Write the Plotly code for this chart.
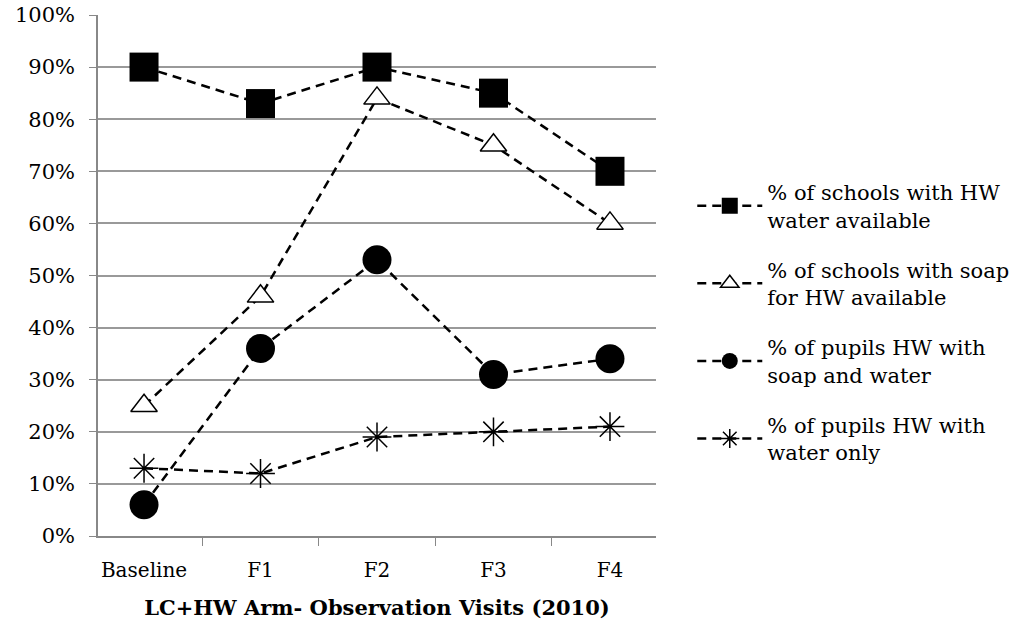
import plotly.graph_objects as go

categories = ["Baseline", "F1", "F2", "F3", "F4"]
water_avail = [0.90, 0.83, 0.90, 0.85, 0.70]
soap_avail = [0.25, 0.46, 0.84, 0.75, 0.60]
hw_soap_water = [0.06, 0.36, 0.53, 0.31, 0.34]
hw_water_only = [0.13, 0.12, 0.19, 0.20, 0.21]

names = [
    "% of schools with HW<br>water available",
    "% of schools with soap<br>for HW available",
    "% of pupils HW with<br>soap and water",
    "% of pupils HW with<br>water only",
]

FONT = "DejaVu Serif"
fig = go.Figure()
line = dict(color="black", width=2.5, dash="9px,6px")
fig.add_trace(go.Scatter(x=categories, y=water_avail, name=names[0], mode="lines+markers", legendgroup="a",
                         line=line, marker=dict(symbol="square", size=29, color="black")))
fig.add_trace(go.Scatter(x=categories, y=soap_avail, name=names[1], mode="lines+markers", legendgroup="b",
                         line=line, marker=dict(symbol="triangle-up", size=23, color="white",
                                                line=dict(color="black", width=1.5))))
fig.add_trace(go.Scatter(x=categories, y=hw_soap_water, name=names[2], mode="lines+markers", legendgroup="c",
                         line=line, marker=dict(symbol="circle", size=29, color="black")))
fig.add_trace(go.Scatter(x=categories, y=hw_water_only, name=names[3], mode="lines+markers", legendgroup="d",
                         line=line, marker=dict(symbol="asterisk-open", size=24, color="black",
                                                line=dict(color="black", width=1.5))))

fig.update_layout(
    width=1014, height=621,
    margin=dict(l=98, r=358, t=15, b=85, autoexpand=False),
    plot_bgcolor="white", paper_bgcolor="white",
    font=dict(family=FONT, size=20, color="black"),
    showlegend=True,
    legend=dict(x=1.065, y=0.41, xanchor="left", yanchor="middle",
                font=dict(family=FONT, size=21), tracegroupgap=20,
                itemsizing="trace", itemwidth=65),
)
fig.update_xaxes(
    title=dict(text="<b>LC+HW Arm- Observation Visits (2010)</b>", font=dict(family=FONT, size=21), standoff=20),
    showline=True, linecolor="#888888", linewidth=1.5,
    ticks="outside", tickson="boundaries", ticklen=8, tickcolor="#888888",
    showgrid=False, tickfont=dict(family=FONT, size=20), ticklabelstandoff=15,
)
fig.update_yaxes(
    range=[0, 1], tickformat=".0%", dtick=0.1,
    showline=True, linecolor="#888888", linewidth=1.5,
    ticks="outside", ticklen=7, tickcolor="#888888",
    showgrid=True, gridcolor="#999999", gridwidth=1.5,
    zeroline=False, tickfont=dict(family=FONT, size=21), ticklabelstandoff=10,
)

fig.write_html("out.html")
